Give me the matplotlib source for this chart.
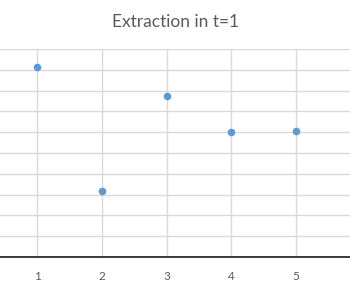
import matplotlib.pyplot as plt

# Data
periods = [1, 2, 3, 4, 5]
extraction = [9.13, 3.16, 7.74, 6.02, 6.06]
x_ticks = [1, 2, 3, 4, 5]
x_labels = ['1', '2', '3', '4', '5']
y_grid = [0, 1, 2, 3, 4, 5, 6, 7, 8, 9, 10]

plt.rcParams['font.family'] = ['Lato', 'DejaVu Sans']

fig = plt.figure(figsize=(3.5, 2.88), dpi=100)
ax = fig.add_axes([0.0, 0.1076, 1.0, 0.7222])

ax.scatter(periods, extraction, s=30, color='#5B9BD5', zorder=3, linewidths=0)

ax.set_xticks(x_ticks)
ax.set_xticklabels(x_labels)
ax.set_yticks(y_grid)
ax.set_yticklabels([])
ax.set_xlim(0.422, 5.84)
ax.set_ylim(0, 10)

ax.grid(True, color='#d9d9d9', linewidth=1.0)
ax.set_axisbelow(True)
ax.tick_params(axis='both', length=0, colors='#595959', labelsize=8.5, pad=10)

for side in ['top', 'left', 'right']:
    ax.spines[side].set_visible(False)
ax.spines['bottom'].set_color('#1a1a1a')
ax.spines['bottom'].set_linewidth(1.2)

fig.text(0.5, 0.924, 'Extraction in t=1', ha='center', va='center',
         fontsize=12.5, color='#595959')

fig.savefig('out.png', dpi=100)
